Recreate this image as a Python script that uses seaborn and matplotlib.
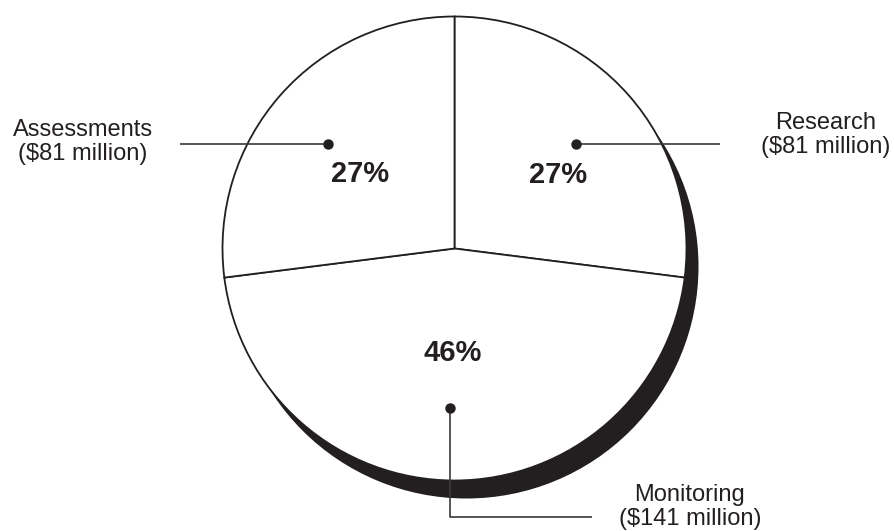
import matplotlib
matplotlib.use("Agg")
import matplotlib.pyplot as plt
from matplotlib.patches import Circle
import seaborn as sns

# Budget shares by activity
categories = ["Research", "Monitoring", "Assessments"]
percent = [27, 46, 27]
millions = [81, 141, 81]

sns.set_theme(style="white")
plt.rcParams["font.family"] = ["Liberation Sans", "DejaVu Sans"]

INK = "#231f20"
W, H = 894, 531
fig = plt.figure(figsize=(W / 100, H / 100), dpi=100)
ax = fig.add_axes([0, 0, 1, 1])

center = (454.5, 282.5)
radius = 232

# drop shadow behind the pie
ax.add_patch(Circle((center[0] + 12, center[1] - 18), radius,
                    facecolor=INK, edgecolor="none", zorder=1))

wedges, _ = ax.pie(percent, startangle=90, counterclock=False,
                   center=center, radius=radius, colors=["white"] * 3,
                   wedgeprops=dict(edgecolor=INK, linewidth=1.3, zorder=2))
for w in wedges:
    w.set_zorder(2)

ax.set_xlim(0, W)
ax.set_ylim(0, H)
ax.set_aspect("equal")
ax.axis("off")

# percentage labels inside the slices
pct_pos = {"Research": (558, 356), "Monitoring": (453, 178), "Assessments": (360, 357)}
for cat, p in zip(categories, percent):
    x, y = pct_pos[cat]
    ax.text(x, y, f"{p}%", ha="center", va="center", fontsize=21,
            fontweight="bold", color=INK, zorder=4)

def name_label(cat, m, x, y):
    ax.text(x, y, f"{cat}\n(${m} million)", ha="center", va="center",
            fontsize=17, color=INK, linespacing=1.12, zorder=4)

lkw = dict(color="#3a3a3a", linewidth=1.2, zorder=3, solid_capstyle="butt")
dkw = dict(marker="o", markersize=6.5, color=INK, zorder=5)

# Research callout
ax.plot([576, 720], [387, 387], **lkw)
ax.plot([576], [387], **dkw)
name_label(categories[0], millions[0], 826, 396)

# Assessments callout
ax.plot([180, 328], [387, 387], **lkw)
ax.plot([328], [387], **dkw)
name_label(categories[2], millions[2], 83, 389)

# Monitoring callout
ax.plot([450, 450, 592], [123, 14, 14], **lkw)
ax.plot([450], [123], **dkw)
name_label(categories[1], millions[1], 690, 24)

fig.savefig("out.png", dpi=100, facecolor="white")
